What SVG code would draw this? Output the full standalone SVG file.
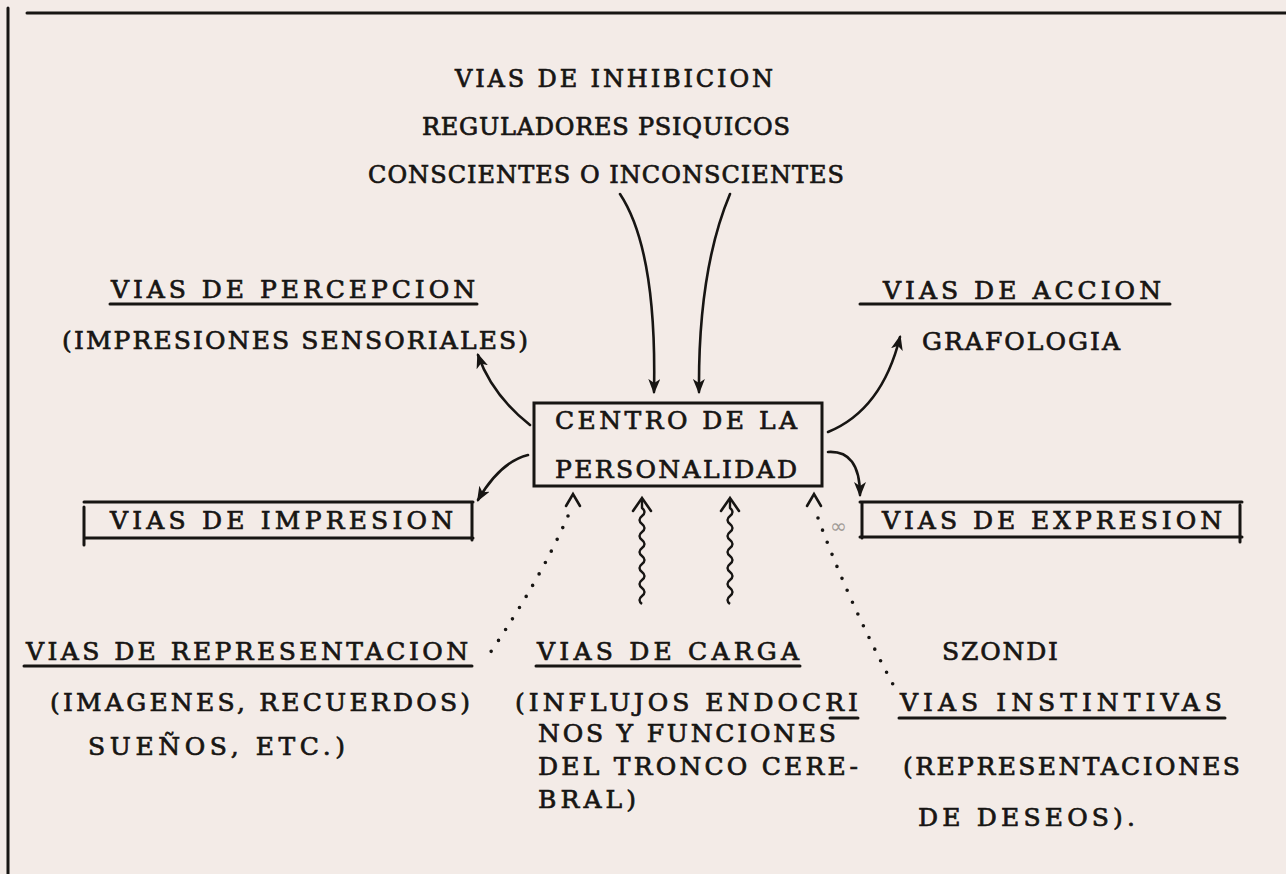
<svg xmlns="http://www.w3.org/2000/svg" width="1286" height="874" viewBox="0 0 1286 874">
<style>
.t{font-family:"DejaVu Serif","Liberation Serif",serif;font-size:25px;fill:#171513;stroke:#171513;stroke-width:0.7;}
.s{font-size:24px;}
.ln{stroke:#171513;stroke-width:3;fill:none;stroke-linecap:round;}
.c{stroke:#171513;stroke-width:2.6;fill:none;stroke-linecap:round;}
.dot{stroke:#171513;stroke-width:3.6;fill:none;stroke-linecap:round;stroke-dasharray:0 13;}
.wv{stroke:#171513;stroke-width:2.4;fill:none;stroke-linejoin:round;}
</style>
<defs>
<marker id="ah" markerUnits="userSpaceOnUse" markerWidth="16" markerHeight="12" refX="13" refY="6" orient="auto">
<path d="M0,0 L15,6 L0,12 L4,6 Z" fill="#171513"/>
</marker>
</defs>
<rect x="0" y="0" width="1286" height="874" fill="#f3ebe7"/>
<g id="frame">
<path class="ln" d="M8,8 V874"/>
<path class="ln" d="M27,13 H1286"/>
</g>
<g id="inhibicion">
<text class="t s" x="455" y="87" textLength="318">VIAS DE INHIBICION</text>
<text class="t s" x="422" y="135" textLength="368">REGULADORES PSIQUICOS</text>
<text class="t s" x="368" y="183" textLength="476">CONSCIENTES O INCONSCIENTES</text>
</g>
<g id="percepcion">
<text class="t" x="111" y="298" textLength="364">VIAS DE PERCEPCION</text>
<path class="ln" d="M110,304 H477"/>
<text class="t" x="62" y="349" textLength="466">(IMPRESIONES SENSORIALES)</text>
</g>
<g id="accion">
<text class="t" x="883" y="299" textLength="278">VIAS DE ACCION</text>
<path class="ln" d="M860,304 H1170"/>
<text class="t" x="922" y="350" textLength="198">GRAFOLOGIA</text>
</g>
<g id="centro">
<rect x="534" y="403" width="288" height="83" fill="none" stroke="#171513" stroke-width="3"/>
<text class="t" x="555" y="429" textLength="242">CENTRO DE LA</text>
<text class="t" x="555" y="478" textLength="242">PERSONALIDAD</text>
</g>
<g id="impresion">
<path class="ln" d="M84,502 H473 M84,538 H473 M84,507 V545 M472,502 V540"/>
<text class="t" x="110" y="529" textLength="343">VIAS DE IMPRESION</text>
</g>
<g id="expresion">
<path class="ln" d="M860,502 H1242 M860,537 H1242 M862,502 V538 M1240,505 V542"/>
<text class="t" x="882" y="529" textLength="340">VIAS DE EXPRESION</text>
<text x="830" y="533" font-family="DejaVu Sans,sans-serif" font-size="20" fill="#a29c98">∞</text>
</g>
<g id="representacion">
<text class="t" x="26" y="660" textLength="442">VIAS DE REPRESENTACION</text>
<path class="ln" d="M24,666 H472"/>
<text class="t" x="50" y="711" textLength="420">(IMAGENES, RECUERDOS)</text>
<text class="t" x="88" y="755" textLength="257">SUEÑOS, ETC.)</text>
</g>
<g id="carga">
<text class="t" x="537" y="660" textLength="262">VIAS DE CARGA</text>
<path class="ln" d="M536,666 H800"/>
<text class="t" x="515" y="711" textLength="343">(INFLUJOS ENDOCRI</text>
<path class="ln" d="M830,718 H858"/>
<text class="t" x="538" y="742" textLength="298">NOS Y FUNCIONES</text>
<text class="t" x="538" y="775" textLength="320">DEL TRONCO CERE-</text>
<text class="t" x="538" y="808" textLength="98">BRAL)</text>
</g>
<g id="instintivas">
<text class="t" x="942" y="660" textLength="116">SZONDI</text>
<text class="t" x="900" y="711" textLength="322">VIAS INSTINTIVAS</text>
<path class="ln" d="M899,718 H1225"/>
<text class="t" x="903" y="775" textLength="337">(REPRESENTACIONES</text>
<text class="t" x="918" y="826" textLength="217">DE DESEOS).</text>
</g>
<g id="connectors">
<path class="c" d="M620,194 Q657,250 654,392" marker-end="url(#ah)"/>
<path class="c" d="M730,194 Q698,270 699,392" marker-end="url(#ah)"/>
<path class="c" d="M530,425 Q492,395 478,355" marker-end="url(#ah)"/>
<path class="c" d="M828,432 Q882,410 900,337" marker-end="url(#ah)"/>
<path class="c" d="M528,455 Q500,462 478,500" marker-end="url(#ah)"/>
<path class="c" d="M828,452 Q860,450 860,495" marker-end="url(#ah)"/>
<path class="dot" d="M568,516 Q540,580 488,656"/>
<path class="c" d="M566,506 L573,494 L580,506"/>
<path class="dot" d="M818,518 Q850,605 896,690"/>
<path class="c" d="M807,506 L814,494 L821,506"/>
<path class="wv" d="M642,604 q-5,-4 0,-8 q5,-4 0,-8 q-5,-4 0,-8 q5,-4 0,-8 q-5,-4 0,-8 q5,-4 0,-8 q-5,-4 0,-8 q5,-4 0,-8 q-5,-4 0,-8 q5,-4 0,-8 q-5,-4 0,-8 q5,-4 0,-8 V500"/>
<path class="c" d="M633,511 L642,498 L651,511"/>
<path class="wv" d="M730,604 q-5,-4 0,-8 q5,-4 0,-8 q-5,-4 0,-8 q5,-4 0,-8 q-5,-4 0,-8 q5,-4 0,-8 q-5,-4 0,-8 q5,-4 0,-8 q-5,-4 0,-8 q5,-4 0,-8 q-5,-4 0,-8 q5,-4 0,-8 V500"/>
<path class="c" d="M721,511 L730,498 L739,511"/>
</g>
</svg>
